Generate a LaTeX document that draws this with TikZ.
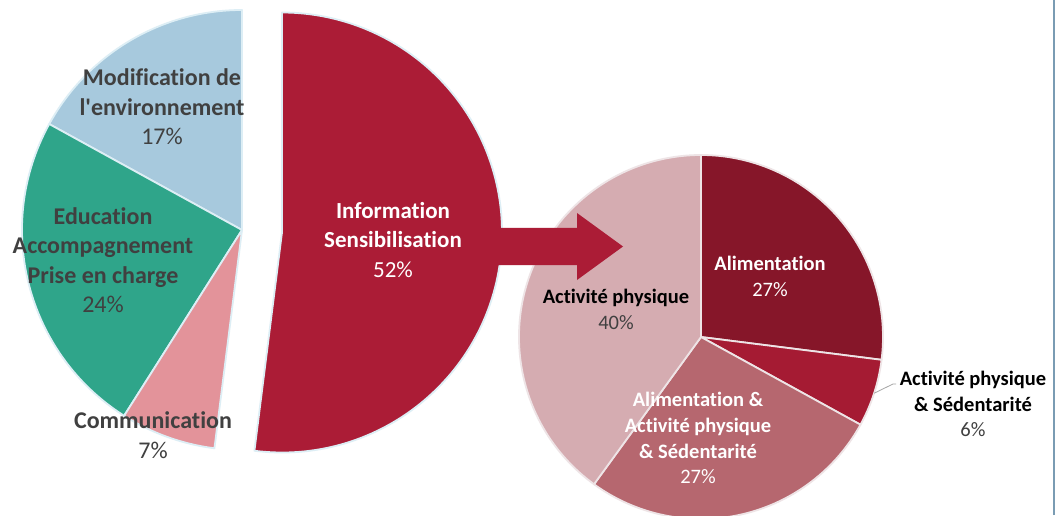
\documentclass[tikz,border=0pt]{standalone}
\usepackage{fontspec}
\usetikzlibrary{calc}
\setmainfont{Carlito}[Ligatures={NoCommon,TeXOff}]
\definecolor{cblue}{HTML}{A7C9DD}
\definecolor{cteal}{HTML}{2FA58A}
\definecolor{cpink}{HTML}{E3939A}
\definecolor{cred}{HTML}{AB1C36}
\definecolor{cdark}{HTML}{861629}
\definecolor{cred6}{HTML}{A51B33}
\definecolor{cmauve}{HTML}{B6676F}
\definecolor{clight}{HTML}{D5ACB1}
\definecolor{edgeL}{HTML}{DDEEF5}
\definecolor{edgeR}{HTML}{EEE4E6}
\definecolor{txtgrey}{HTML}{404040}
\definecolor{frame}{HTML}{7A9CB3}
\begin{document}
\begin{tikzpicture}[x=1pt,y=1pt,
  sliceL/.style={draw=edgeL,line width=1.8pt,line join=round},
  sliceR/.style={draw=edgeR,line width=1.8pt,line join=round},
  bigtxt/.style={align=center,font=\fontsize{24}{29.5}\selectfont,inner sep=0pt},
  midtxt/.style={align=center,font=\fontsize{23}{29.5}\selectfont,inner sep=0pt},
  smalltxt/.style={align=center,font=\fontsize{20.5}{25.8}\selectfont,inner sep=0pt}]
\useasboundingbox (0,0) rectangle (1058,515);
\fill[white] (0,0) rectangle (1058,515);
\coordinate (L) at (242,285);
\coordinate (I) at (282,282.5);
\coordinate (R) at (701,178);
% left pie
\filldraw[fill=cblue,sliceL] (L) -- ++(90:220) arc[start angle=90,end angle=151.2,radius=220] -- cycle;
\filldraw[fill=cteal,sliceL] (L) -- ++(151.2:220) arc[start angle=151.2,end angle=237.6,radius=220] -- cycle;
\filldraw[fill=cpink,sliceL] (L) -- ++(237.6:220) arc[start angle=237.6,end angle=262.8,radius=220] -- cycle;
\filldraw[fill=cred,sliceL] (I) -- ++(262.8:220) arc[start angle=262.8,end angle=450,radius=220] -- cycle;
% right pie
\filldraw[fill=cdark,sliceR] (R) -- ++(90:182) arc[start angle=90,end angle=-7.2,radius=182] -- cycle;
\filldraw[fill=cred6,sliceR] (R) -- ++(-7.2:182) arc[start angle=-7.2,end angle=-28.8,radius=182] -- cycle;
\filldraw[fill=cmauve,sliceR] (R) -- ++(-28.8:182) arc[start angle=-28.8,end angle=-126,radius=182] -- cycle;
\filldraw[fill=clight,sliceR] (R) -- ++(-126:182) arc[start angle=-126,end angle=-270,radius=182] -- cycle;
% arrow
\coordinate (arrs) at (490,268.5);
\coordinate (arrt) at (623,268.5);
\fill[cred] ($(arrs)+(0,-18.5)$) -- (577,250) -- (577,235) -- (arrt) -- (577,302) -- (577,287) -- ($(arrs)+(0,18.5)$) -- cycle;
% frame line
\draw[frame,line width=2pt] (1054,0) -- (1054,515);
% labels left
\node[bigtxt,text=txtgrey] (mod) at (162,408) {\textbf{Modification de}\\\textbf{l'environnement}\\17\%};
\node[bigtxt,text=txtgrey] (edu) at (103,255) {\textbf{Education}\\\textbf{Accompagnement}\\\textbf{Prise en charge}\\24\%};
\node[bigtxt,text=txtgrey] (com) at (153,80) {\textbf{Communication}\\7\%};
\node[midtxt,text=white] (inf) at (393,275) {\textbf{Information}\\\textbf{Sensibilisation}\\52\%};
% labels right
\node[smalltxt] (ap) at (616,206) {\textbf{Activité physique}\\\textcolor{txtgrey}{40\%}};
\node[smalltxt,text=white] (ali) at (770,239) {\textbf{Alimentation}\\27\%};
\node[smalltxt,text=white] (aas) at (698,77) {\textbf{Alimentation \&}\\\textbf{Activité physique}\\\textbf{\& Sédentarité}\\27\%};
\node[smalltxt] (aps) at (973,111) {\textbf{Activité physique}\\\textbf{\& Sédentarité}\\\textcolor{txtgrey}{6\%}};
\path (R) ++(-18:182) coordinate (s6);
\draw[gray!70,line width=0.8pt] (s6) -- (893,131) -- (896,131);
\end{tikzpicture}
\end{document}
